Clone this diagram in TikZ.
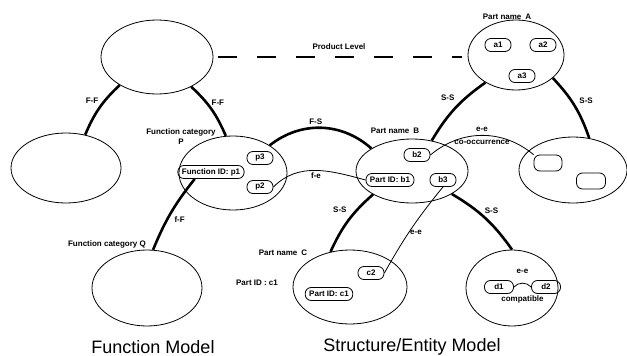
\documentclass[tikz,border=0pt]{standalone}
\usepackage{fontspec}
\setmainfont{Liberation Sans}
\usetikzlibrary{shapes.geometric}

\begin{document}
\begin{tikzpicture}[x=1pt,y=-1pt,
    entity/.style={draw,ellipse,line width=0.8pt,inner sep=0pt},
    item/.style={draw,rounded corners=6pt,line width=0.8pt,minimum height=13pt,minimum width=26pt,inner xsep=4pt,inner ysep=1.5pt,font=\fontsize{8}{9}\selectfont\bfseries},
    lbl/.style={font=\fontsize{8}{10}\selectfont\bfseries,inner sep=1pt},
    strong/.style={line width=2.6pt},
    weak/.style={line width=0.8pt},
    level/.style={line width=1.1pt,dash pattern=on 19pt off 20pt},
    title/.style={font=\fontsize{18}{20}\selectfont}]
                \useasboundingbox (0,0) rectangle (627,356);

                \node[entity,minimum width=112pt,minimum height=74pt] (ftop) at (157,57) {};
                \node[entity,minimum width=110pt,minimum height=70pt] (fleft) at (66,168) {};
                \node[entity,minimum width=108pt,minimum height=74pt] (fp) at (233,173) {};
                \node[entity,minimum width=110pt,minimum height=76pt] (fq) at (147,288) {};
                \node[entity,minimum width=96pt,minimum height=70pt] (pa) at (516,55) {};
                \node[entity,minimum width=112pt,minimum height=64pt] (pb) at (412,171) {};
                \node[entity,minimum width=108pt,minimum height=66pt] (pe) at (573,170) {};
                \node[entity,minimum width=114pt,minimum height=74pt] (pc) at (350,287) {};
                \node[entity,minimum width=92pt,minimum height=76pt] (pd) at (512,288) {};

                \node[item] (a1) at (498,45) {a1};
                \node[item] (a2) at (543,45) {a2};
                \node[item] (a3) at (522,76) {a3};
                \node[item] (p3) at (260,158) {p3};
                \node[item] (p1) at (211,172) {Function ID: p1};
                \node[item] (p2) at (260,187) {p2};
                \node[item] (b2) at (417,155) {b2};
                \node[item] (b1) at (390,180) {Part ID: b1};
                \node[item] (b3) at (443,180) {b3};
                \node[item,minimum height=16pt,minimum width=28pt] (e1) at (548,163) {};
                \node[item,minimum height=16pt,minimum width=29pt] (e2) at (591,181) {};
                \node[item] (c2) at (371,273) {c2};
                \node[item] (c1) at (329,294) {Part ID: c1};
                \node[item,minimum width=29pt] (d1) at (499,287) {d1};
                \node[item,minimum width=29pt] (d2) at (546,287) {d2};

                \node[lbl] (prodlevel) at (339,47) {Product Level};
                \node[lbl] (namea) at (507,17) {Part name\hspace{4pt}A};
                \node[lbl] (nameb) at (395,131) {Part name\hspace{4pt}B};
                \node[lbl] (namec) at (283,253) {Part name\hspace{4pt}C};
                \node[lbl] (idc) at (257,283) {Part ID : c1};
                \node[lbl,align=center] (catp) at (181,137) {Function category\\P};
                \node[lbl] (catq) at (107,244) {Function category Q};
                \node[title] (fmodel) at (153,347) {Function Model};
                \node[title] (smodel) at (412,347) {Structure/Entity Model};

                \draw[level,shorten <=5pt,shorten >=6pt] (ftop.east) -- (ftop.east -| pa.west);

                \draw[strong] (ftop.217) to[bend right=12] node[lbl,left=4pt,pos=0.35] {F-F} (fleft.60);
                \draw[strong] (ftop.319) to[bend left=12] node[lbl,right=3pt,pos=0.35] {F-F} (fp.101);
                \draw[strong] (fp.37) to[bend left=40] node[lbl,above=1pt,pos=0.45] {F-S} (pb.151);
                \draw[strong] (p1.203) to[bend right=8] node[lbl,right=5pt,pos=0.6] {f-F} (fq.81);
                \draw[strong] (pa.222) to[bend right=12] node[lbl,left=9pt,pos=0.3] {S-S} (pb.57);
                \draw[strong] (pa.328) to[bend left=12] node[lbl,right=6pt,pos=0.4] {S-S} (pe.63);
                \draw[strong] (pb.211) to[bend right=12] node[lbl,left=8pt,pos=0.3] {S-S} (pc.119);
                \draw[strong] (pb.330) to[bend left=12] node[lbl,right=6pt,pos=0.35] {S-S} (pd.90);

                \draw[weak] (p2.east) to[out=45,in=165] node[lbl,below=1pt,pos=0.5] {f-e} (b1.west);
                \draw[weak] (b2.east) to[out=40,in=140] node[lbl,above=2pt,pos=0.5] {e-e} node[lbl,below=3pt,pos=0.5] {co-occurrence} (e1.150);
                \draw[weak] (b3.south) to[bend right=5] node[lbl,right,pos=0.55] {e-e} (c2.east);
                \draw[weak] (d1.east) to[bend left=50] node[lbl,above=8pt] {e-e} node[lbl,below=11pt] {compatible} (d2.west);
            \end{tikzpicture}
\end{document}
